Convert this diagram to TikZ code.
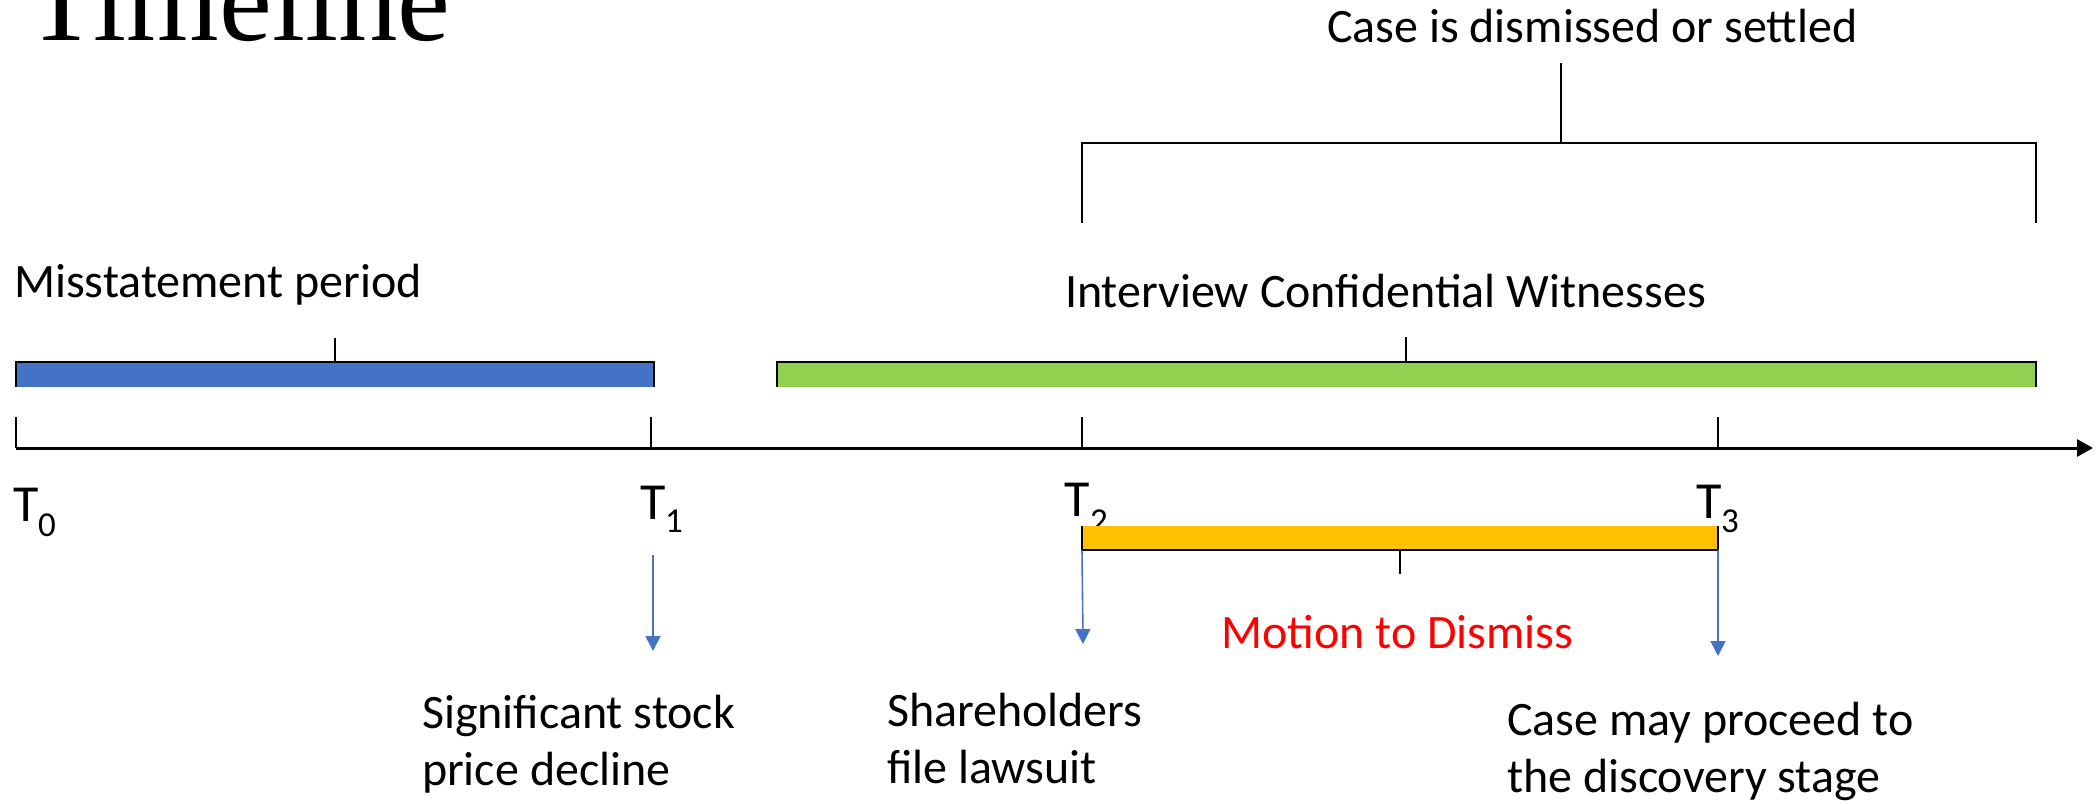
\documentclass[tikz,border=0pt]{standalone}
\usepackage{fontspec}
\setmainfont{Carlito}
\newfontfamily\titlefont{Liberation Serif}
\usetikzlibrary{arrows.meta}

\definecolor{barblue}{HTML}{4472C4}
\definecolor{bargreen}{HTML}{92D050}
\definecolor{barorange}{HTML}{FFC000}
\definecolor{motionred}{HTML}{FF0000}

\tikzset{
  lbl/.style={font=\fontsize{48}{57}\selectfont, inner sep=0pt, outer sep=0pt, align=left, anchor=base west},
  tlbl/.style={font=\fontsize{52}{60}\selectfont, inner sep=0pt, outer sep=0pt, anchor=base west},
  tsub/.style={font=\fontsize{35}{40}\selectfont, inner sep=0pt, outer sep=0pt, anchor=base west},
  axisline/.style={line width=3pt, -{Triangle[width=17pt,length=16pt]}},
  tickmark/.style={line width=2pt},
  bracketline/.style={line width=2.2pt},
  eventarrow/.style={barblue, line width=1.6pt, -{Triangle[width=15pt,length=15pt]}},
}

\begin{document}
\begin{tikzpicture}[x=1pt, y=-1pt]
\useasboundingbox (0,0) rectangle (2100,803);

% title, partly above the page edge
\node[inner sep=0pt, anchor=base west, font=\titlefont\fontsize{119}{130}\selectfont] (title) at (25,40) {Timeline};

% time axis and its ticks
\coordinate (axstart) at (16,448);
\coordinate (axend) at (2093,448);
\draw[axisline] (axstart) -- (axend);
\foreach \nm/\xx in {t0/16, t1/651, t2/1082, t3/1718} {
  \coordinate (\nm) at (\xx,448);
  \coordinate (\nm top) at (\xx,417);
  \draw[tickmark] (\nm) -- (\nm top);
}

% time labels
\node[tlbl] (T0) at (13,521) {T};
\node[tsub] (T0s) at (38,536) {0};
\node[tlbl] (T1) at (640,519) {T};
\node[tsub] (T1s) at (665,532) {1};
\node[tlbl] (T2) at (1064,516) {T};
\node[tsub] (T2s) at (1090,532) {2};
\node[tlbl] (T3) at (1696,518) {T};
\node[tsub] (T3s) at (1721,532) {3};

% misstatement period bar
\fill[barblue] (16,362) rectangle (654,387);
\coordinate (bL) at (16,387); \coordinate (bLt) at (16,362);
\coordinate (bR) at (654,387); \coordinate (bRt) at (654,362);
\coordinate (bM) at (335,362); \coordinate (bMt) at (335,338);
\draw[bracketline] (bL) -- (bLt) -- (bRt) -- (bR);
\draw[bracketline] (bM) -- (bMt);
\node[lbl] (misst) at (14,297) {Misstatement period};

% confidential witnesses bar
\fill[bargreen] (777,362) rectangle (2036,387);
\coordinate (gL) at (777,387); \coordinate (gLt) at (777,362);
\coordinate (gR) at (2036,387); \coordinate (gRt) at (2036,362);
\coordinate (gM) at (1406,362); \coordinate (gMt) at (1406,337);
\draw[bracketline] (gL) -- (gLt) -- (gRt) -- (gR);
\draw[bracketline] (gM) -- (gMt);
\node[lbl] (witness) at (1065,307) {Interview Confidential Witnesses};

% dismissal / settlement bracket
\coordinate (cL) at (1082,223); \coordinate (cLt) at (1082,143);
\coordinate (cR) at (2036,223); \coordinate (cRt) at (2036,143);
\coordinate (cM) at (1561,143); \coordinate (cMt) at (1561,63);
\draw[bracketline] (cL) -- (cLt) -- (cRt) -- (cR);
\draw[bracketline] (cM) -- (cMt);
\node[lbl] (settle) at (1327,42) {Case is dismissed or settled};

% motion to dismiss bar
\fill[barorange] (1082,526) rectangle (1718,550);
\coordinate (oL) at (1082,526); \coordinate (oLb) at (1082,550);
\coordinate (oR) at (1718,526); \coordinate (oRb) at (1718,550);
\coordinate (oM) at (1400,550); \coordinate (oMb) at (1400,574);
\draw[bracketline] (oL) -- (oLb) -- (oRb) -- (oR);
\draw[bracketline] (oM) -- (oMb);
\node[lbl, text=motionred] (motion) at (1221,648) {Motion to Dismiss};

% events below the axis
\coordinate (a1s) at (653,555); \coordinate (a1e) at (653,651);
\coordinate (a2e) at (1083,644);
\coordinate (a3e) at (1718,656);
\draw[eventarrow] (a1s) -- (a1e);
\draw[eventarrow] (oLb) -- (a2e);
\draw[eventarrow] (oRb) -- (a3e);

% multi-line labels: the base anchor sits on the last line
\node[lbl] (decline) at (422,785) {Significant stock\\price decline};
\node[lbl] (lawsuit) at (887,783) {Shareholders\\file lawsuit};
\node[lbl] (discovery) at (1507,792) {Case may proceed to\\the discovery stage};
\end{tikzpicture}
\end{document}
